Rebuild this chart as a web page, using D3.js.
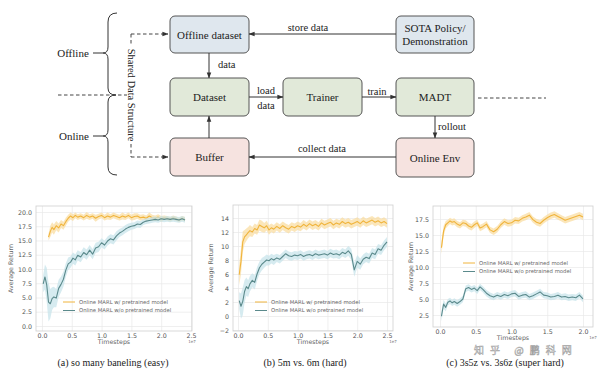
<!DOCTYPE html>
<html>
<head>
<meta charset="utf-8">
<script src="https://cdn.jsdelivr.net/npm/d3@7"></script>
<style>
  body { margin: 0; background: #fff; }
  svg { display: block; }
</style>
</head>
<body>
<div id="fig"></div>
<script>
// ---------- data ----------
// (a) so many baneling
const aSteps = [0.02,0.05,0.08,0.11,0.14,0.17,0.20,0.24,0.28,0.32,0.36,0.40,0.44,0.48,0.52,0.56,0.60,
  0.65,0.70,0.75,0.80,0.85,0.90,0.95,1.00,1.05,1.10,1.15,1.20,1.25,1.30,1.35,1.40,1.45,1.50,
  1.55,1.60,1.65,1.70,1.75,1.80,1.85,1.90,1.95,2.00,2.05,2.10,2.15,2.20,2.25,2.30,2.35,2.40];
const aWith = [null,null,null,15.6,16.6,17.3,16.9,17.6,17.2,17.9,17.6,18.3,18.9,19.3,19.0,19.4,19.1,
  19.3,19.0,19.4,19.1,19.3,18.9,19.2,19.4,19.0,19.3,19.1,19.4,19.2,19.0,19.3,19.1,19.4,19.0,
  19.2,19.3,19.0,19.1,18.9,19.3,19.0,18.9,19.1,18.8,19.0,18.9,18.7,19.0,18.8,18.6,18.9,18.7];
const aWithSpread = [0,0,0,0.6,1.0,0.9,0.9,0.8,0.8,0.7,0.7,0.7,0.6,0.6,0.6,0.5,0.5,
  0.5,0.5,0.6,0.5,0.5,0.6,0.5,0.5,0.5,0.6,0.5,0.5,0.5,0.5,0.6,0.5,0.5,0.5,
  0.6,0.5,0.5,0.5,0.5,0.6,0.5,0.5,0.5,0.5,0.4,0.4,0.4,0.4,0.4,0.4,0.4,0.4];
const aWithout = [7.4,8.6,7.2,4.2,3.9,4.8,5.1,4.9,6.6,7.3,8.2,9.8,10.9,11.2,11.9,11.6,12.4,
  12.1,12.9,12.5,13.3,12.6,13.7,13.9,14.6,14.2,14.9,15.3,15.1,15.8,16.3,16.6,17.0,17.3,17.5,
  17.6,17.9,17.8,18.2,18.4,18.5,18.6,18.7,18.6,18.8,18.7,18.8,18.7,18.8,18.7,18.6,18.8,18.6];
const aWithoutSpread = [1.5,2.2,3.0,3.4,2.6,2.0,1.8,1.6,1.5,1.4,1.3,1.2,1.1,1.0,1.0,1.0,0.9,
  0.9,0.9,0.9,0.9,0.9,0.9,0.9,0.8,0.8,0.8,0.8,0.8,0.8,0.7,0.7,0.7,0.7,0.6,
  0.6,0.6,0.6,0.5,0.5,0.5,0.5,0.5,0.5,0.5,0.5,0.5,0.5,0.5,0.5,0.5,0.5,0.5];
const aXTicks = [0, 0.5, 1.0, 1.5, 2.0, 2.5];
const aYTicks = [0, 2.5, 5, 7.5, 10, 12.5, 15, 17.5, 20];

// (b) 5m vs. 6m
const bSteps = [0.02,0.05,0.08,0.11,0.14,0.17,0.20,0.24,0.28,0.32,0.36,0.40,0.44,0.48,0.52,0.56,0.60,
  0.65,0.70,0.75,0.80,0.85,0.90,0.95,1.00,1.05,1.10,1.15,1.20,1.25,1.30,1.35,1.40,1.45,1.50,
  1.55,1.60,1.65,1.70,1.75,1.80,1.85,1.90,1.95,2.00,2.05,2.10,2.15,2.20,2.25,2.30,2.35,2.40,2.45,2.50];
const bWith = [5.9,7.8,10.6,11.3,11.6,11.9,12.2,12.0,12.5,12.3,13.0,12.8,12.6,12.9,12.3,12.6,12.4,
  12.8,12.5,12.9,12.6,12.4,12.8,12.6,12.9,12.7,13.1,12.8,13.2,12.9,13.1,12.8,13.3,13.0,13.2,
  13.4,13.0,13.3,13.1,13.5,13.2,13.4,13.1,13.3,13.5,13.2,13.6,13.3,13.5,13.7,13.4,13.6,13.3,13.5,13.2];
const bWithSpread = [1.5,1.8,1.5,1.0,0.9,0.8,0.8,0.7,0.7,0.7,0.8,0.8,0.7,0.7,0.7,0.6,0.6,
  0.6,0.6,0.6,0.6,0.6,0.6,0.6,0.6,0.6,0.6,0.6,0.6,0.6,0.6,0.6,0.6,0.6,0.6,
  0.6,0.6,0.6,0.6,0.6,0.6,0.6,0.6,0.6,0.6,0.6,0.6,0.6,0.6,0.6,0.6,0.6,0.6,0.6,0.6];
const bWithout = [2.2,1.4,2.1,3.5,4.2,3.9,4.6,5.1,4.8,6.0,6.9,7.4,7.7,8.0,7.9,8.2,8.0,
  8.3,8.1,8.5,8.9,8.6,8.5,8.7,8.6,8.8,8.5,8.7,8.8,8.6,8.9,8.7,8.8,8.9,8.7,
  9.0,8.8,8.9,8.7,9.1,8.9,9.3,8.8,6.6,7.8,7.4,8.1,8.4,8.2,9.0,8.8,9.6,9.4,10.1,10.6];
const bWithoutSpread = [1.2,1.8,2.0,1.6,1.3,1.2,1.1,1.0,1.0,1.0,0.9,0.9,0.8,0.8,0.7,0.7,0.7,
  0.6,0.6,0.6,0.6,0.6,0.6,0.6,0.6,0.6,0.6,0.6,0.6,0.6,0.6,0.6,0.6,0.6,0.6,
  0.6,0.6,0.6,0.6,0.6,0.6,0.7,0.8,1.0,0.9,0.8,0.7,0.7,0.7,0.7,0.7,0.7,0.7,0.7,0.7];
const bXTicks = [0, 0.5, 1.0, 1.5, 2.0, 2.5];
const bYTicks = [-2, 0, 2, 4, 6, 8, 10, 12, 14];

// (c) 3s5z vs. 3s6z
const cSteps = [0.02,0.05,0.08,0.11,0.14,0.17,0.20,0.24,0.28,0.32,0.36,0.40,0.44,0.48,0.52,0.56,0.60,
  0.65,0.70,0.75,0.80,0.85,0.90,0.95,1.00,1.05,1.10,1.15,1.20,1.25,1.30,1.35,1.40,1.45,1.50,
  1.55,1.60,1.65,1.70,1.75,1.80,1.85,1.90,1.95,2.00];
const cWith = [13.0,15.6,16.6,16.9,17.2,17.0,17.1,16.7,16.5,16.9,16.8,16.4,16.2,16.6,16.9,16.1,16.3,
  16.7,15.8,15.5,15.9,16.6,17.1,16.8,16.9,17.3,17.2,17.6,17.8,18.1,17.4,17.0,16.8,17.3,17.7,
  18.0,18.2,17.9,17.6,17.3,17.5,17.7,17.9,18.1,17.8];
const cWithSpread = [1.0,0.8,0.6,0.5,0.5,0.5,0.5,0.5,0.5,0.5,0.5,0.5,0.5,0.5,0.5,0.5,0.5,
  0.5,0.5,0.5,0.5,0.5,0.5,0.5,0.5,0.5,0.5,0.5,0.5,0.5,0.5,0.5,0.5,0.5,0.5,
  0.5,0.5,0.5,0.5,0.5,0.5,0.5,0.5,0.5,0.5];
const cWithout = [2.3,4.2,3.7,4.5,4.7,4.4,4.6,4.3,4.6,5.0,6.6,6.8,6.5,6.7,6.3,6.9,6.5,
  5.9,5.5,5.3,5.6,5.4,5.7,5.5,5.8,5.9,5.4,5.6,5.7,5.3,5.5,5.8,6.1,5.6,5.5,
  5.3,5.4,5.6,5.3,5.4,5.2,5.3,5.2,5.6,5.0];
const cWithoutSpread = [0.8,0.7,0.6,0.5,0.5,0.5,0.5,0.5,0.5,0.5,0.5,0.5,0.5,0.5,0.5,0.5,0.5,
  0.5,0.5,0.5,0.5,0.5,0.5,0.5,0.5,0.5,0.5,0.5,0.5,0.5,0.5,0.5,0.5,0.5,0.5,
  0.5,0.5,0.5,0.5,0.5,0.5,0.5,0.5,0.5,0.5];
const cXTicks = [0, 0.5, 1.0, 1.5, 2.0];
const cYTicks = [2.5, 5, 7.5, 10, 12.5, 15, 17.5];

const legendLabels = ["Online MARL w/ pretrained model", "Online MARL w/o pretrained model"];
const captions = ["(a) so many baneling (easy)", "(b) 5m vs. 6m (hard)", "(c) 3s5z vs. 3s6z (super hard)"];

// ---------- page ----------
const serif = "'Liberation Serif', 'DejaVu Serif', serif";
const sans = "'DejaVu Sans', sans-serif";
const ORANGE = "#f0b43c", ORANGE_BAND = "#fadb9c";
const TEAL = "#5b8a8c", TEAL_BAND = "#c4e2ea";

const svg = d3.select("#fig").append("svg")
    .attr("width", 600)
    .attr("height", 377);

const defs = svg.append("defs");
defs.append("marker")
    .attr("id", "arrow")
    .attr("viewBox", "0 0 8 8")
    .attr("refX", 7.5).attr("refY", 4)
    .attr("markerWidth", 6).attr("markerHeight", 6)
    .attr("markerUnits", "userSpaceOnUse")
    .attr("orient", "auto")
    .append("path")
    .attr("d", "M0,1 L8,4 L0,7 Z")
    .attr("fill", "#333");

// ---------- flow diagram ----------
const boxes = [
    { lines: ["Offline dataset"], x: 170, y: 16, w: 79, h: 37, fill: "#dfe7ee" },
    { lines: ["SOTA Policy/", "Demonstration"], x: 396, y: 16, w: 78, h: 37, fill: "#dfe7ee" },
    { lines: ["Dataset"], x: 170, y: 78, w: 79, h: 38, fill: "#e1e9d9" },
    { lines: ["Trainer"], x: 283, y: 78, w: 79, h: 38, fill: "#e1e9d9" },
    { lines: ["MADT"], x: 396, y: 78, w: 78, h: 38, fill: "#e1e9d9" },
    { lines: ["Buffer"], x: 170, y: 138, w: 79, h: 38, fill: "#f6e3e0" },
    { lines: ["Online Env"], x: 396, y: 138, w: 78, h: 39, fill: "#f6e3e0" }
];

const edges = [
    { d: "M396,34 L249,34" },
    { d: "M209,53 L209,78" },
    { d: "M249,97 L283,97" },
    { d: "M362,97 L396,97" },
    { d: "M435,116 L435,138" },
    { d: "M396,157 L249,157" },
    { d: "M209,138 L209,116" }
];

const edgeLabels = [
    { t: "store data", x: 308, y: 31, a: "middle" },
    { t: "data", x: 218, y: 68, a: "start" },
    { t: "load", x: 266, y: 94, a: "middle" },
    { t: "data", x: 266, y: 108.5, a: "middle" },
    { t: "train", x: 377, y: 94.5, a: "middle" },
    { t: "rollout", x: 438, y: 130, a: "start" },
    { t: "collect data", x: 322, y: 152, a: "middle" }
];

const flow = svg.append("g");

flow.selectAll("rect.box")
    .data(boxes)
    .enter()
    .append("rect")
    .attr("class", "box")
    .attr("x", d => d.x).attr("y", d => d.y)
    .attr("width", d => d.w).attr("height", d => d.h)
    .attr("rx", 5)
    .attr("fill", d => d.fill)
    .attr("stroke", "#555")
    .attr("stroke-width", 1);

boxes.forEach(b => {
    const n = b.lines.length;
    b.lines.forEach((l, i) => {
        flow.append("text")
            .attr("x", b.x + b.w / 2)
            .attr("y", b.y + b.h / 2 + 4 + (i - (n - 1) / 2) * 13)
            .attr("text-anchor", "middle")
            .style("font-family", serif)
            .style("font-size", "11px")
            .attr("fill", "#222")
            .text(l);
    });
});

flow.selectAll("path.edge")
    .data(edges)
    .enter()
    .append("path")
    .attr("class", "edge")
    .attr("d", d => d.d)
    .attr("fill", "none")
    .attr("stroke", "#333")
    .attr("stroke-width", 1)
    .attr("marker-end", "url(#arrow)");

edgeLabels.forEach(l => {
    flow.append("text")
        .attr("x", l.x).attr("y", l.y)
        .attr("text-anchor", l.a)
        .style("font-family", serif)
        .style("font-size", "10.5px")
        .attr("fill", "#222")
        .text(l.t);
});

// dashed links of the shared data structure
const dashed = [
    { d: "M131,34 L168,34", arrow: true },
    { d: "M131,157 L168,157", arrow: true },
    { d: "M131,34 L131,46", arrow: false },
    { d: "M131,144 L131,157", arrow: false },
    { d: "M58,95 L127,95", arrow: false },
    { d: "M478,98 L546,98", arrow: false }
];
dashed.forEach(p => {
    const path = flow.append("path")
        .attr("d", p.d)
        .attr("fill", "none")
        .attr("stroke", "#444")
        .attr("stroke-width", 1)
        .attr("stroke-dasharray", "3.5,2.5");
    if (p.arrow) path.attr("marker-end", "url(#arrow)");
});

flow.append("text")
    .attr("transform", "translate(128,95) rotate(90)")
    .attr("text-anchor", "middle")
    .style("font-family", serif)
    .style("font-size", "10.5px")
    .attr("fill", "#222")
    .text("Shared Data Structure");

// brace
flow.append("path")
    .attr("d", "M117,13 Q108,13 108,22 L108,47 Q108,53 103,53 Q108,53 108,59 L108,88 Q108,95 116,95 " +
        "Q108,95 108,102 L108,130 Q108,136 103,136 Q108,136 108,142 L108,167 Q108,175 117,175")
    .attr("fill", "none")
    .attr("stroke", "#333")
    .attr("stroke-width", 1);

[{ t: "Offline", y: 53, x: 73 }, { t: "Online", y: 136, x: 74 }].forEach(l => {
    flow.append("text")
        .attr("x", l.x).attr("y", l.y + 4)
        .attr("text-anchor", "middle")
        .style("font-family", serif)
        .style("font-size", "11px")
        .attr("fill", "#222")
        .text(l.t);
    flow.append("line")
        .attr("x1", 93).attr("x2", 103)
        .attr("y1", l.y).attr("y2", l.y)
        .attr("stroke", "#333");
});

// ---------- learning curves ----------
const charts = [
    {
        box: { left: 36, right: 192, top: 206, bottom: 331 },
        xDomain: [-0.10, 2.517], yDomain: [-0.88, 21.05],
        xTicks: aXTicks, yTicks: aYTicks, yFmt: d3.format(".1f"),
        steps: aSteps,
        series: [
            { v: aWith, s: aWithSpread, line: ORANGE, band: ORANGE_BAND },
            { v: aWithout, s: aWithoutSpread, line: TEAL, band: TEAL_BAND }
        ],
        legend: { x: 63, y: 302 }, yLabelX: 13, caption: captions[0], capX: 113
    },
    {
        box: { left: 233, right: 393, top: 205, bottom: 331 },
        xDomain: [-0.084, 2.60], yDomain: [-2.14, 15.86],
        xTicks: bXTicks, yTicks: bYTicks, yFmt: d3.format("d"),
        steps: bSteps,
        series: [
            { v: bWith, s: bWithSpread, line: ORANGE, band: ORANGE_BAND },
            { v: bWithout, s: bWithoutSpread, line: TEAL, band: TEAL_BAND }
        ],
        legend: { x: 255, y: 302 }, yLabelX: 213, caption: captions[1], capX: 305
    },
    {
        box: { left: 433, right: 593, top: 206, bottom: 327 },
        xDomain: [-0.098, 2.14], yDomain: [0.625, 19.53],
        xTicks: cXTicks, yTicks: cYTicks, yFmt: d3.format(".1f"),
        steps: cSteps,
        series: [
            { v: cWith, s: cWithSpread, line: ORANGE, band: ORANGE_BAND },
            { v: cWithout, s: cWithoutSpread, line: TEAL, band: TEAL_BAND }
        ],
        legend: { x: 463, y: 263 }, yLabelX: 413, caption: captions[2], capX: 505
    }
];

charts.forEach((c, ci) => {
    const b = c.box;
    const x = d3.scaleLinear().domain(c.xDomain).range([b.left, b.right]);
    const y = d3.scaleLinear().domain(c.yDomain).range([b.bottom, b.top]);
    const g = svg.append("g");

    defs.append("clipPath").attr("id", "clip" + ci)
        .append("rect")
        .attr("x", b.left).attr("y", b.top)
        .attr("width", b.right - b.left).attr("height", b.bottom - b.top);

    // grid
    g.append("g")
        .attr("transform", `translate(0,${b.bottom})`)
        .call(d3.axisBottom(x).tickValues(c.xTicks).tickSize(-(b.bottom - b.top)).tickFormat(""))
        .call(s => s.select(".domain").remove())
        .call(s => s.selectAll("line").attr("stroke", "#e8e8e8").attr("stroke-width", 0.7));
    g.append("g")
        .attr("transform", `translate(${b.left},0)`)
        .call(d3.axisLeft(y).tickValues(c.yTicks).tickSize(-(b.right - b.left)).tickFormat(""))
        .call(s => s.select(".domain").remove())
        .call(s => s.selectAll("line").attr("stroke", "#e8e8e8").attr("stroke-width", 0.7));

    // bands and lines
    const plot = g.append("g").attr("clip-path", `url(#clip${ci})`);
    c.series.forEach(sr => {
        const pts = c.steps.map((t, i) => ({ t: t, v: sr.v[i], s: sr.s[i] }));
        const area = d3.area()
            .defined(d => d.v !== null)
            .x(d => x(d.t))
            .y0(d => y(d.v - d.s))
            .y1(d => y(d.v + d.s));
        const line = d3.line()
            .defined(d => d.v !== null)
            .x(d => x(d.t))
            .y(d => y(d.v));
        plot.append("path")
            .datum(pts)
            .attr("d", area)
            .attr("fill", sr.band)
            .attr("opacity", 0.7);
        plot.append("path")
            .datum(pts)
            .attr("d", line)
            .attr("fill", "none")
            .attr("stroke", sr.line)
            .attr("stroke-width", 1.1)
            .attr("stroke-linejoin", "round");
    });

    // frame
    g.append("rect")
        .attr("x", b.left).attr("y", b.top)
        .attr("width", b.right - b.left).attr("height", b.bottom - b.top)
        .attr("fill", "none")
        .attr("stroke", "#cfcfcf")
        .attr("stroke-width", 0.8);

    // tick labels
    g.append("g")
        .attr("transform", `translate(0,${b.bottom})`)
        .call(d3.axisBottom(x).tickValues(c.xTicks).tickFormat(d3.format(".1f")).tickSize(0).tickPadding(3))
        .call(s => s.select(".domain").remove())
        .call(s => s.selectAll("text").style("font-family", sans).style("font-size", "6.3px").attr("fill", "#555"));
    g.append("g")
        .attr("transform", `translate(${b.left},0)`)
        .call(d3.axisLeft(y).tickValues(c.yTicks).tickFormat(c.yFmt).tickSize(0).tickPadding(4))
        .call(s => s.select(".domain").remove())
        .call(s => s.selectAll("text").style("font-family", sans).style("font-size", "6.3px").attr("fill", "#555"));

    // exponent marker
    g.append("text")
        .attr("x", b.right).attr("y", b.bottom + 12)
        .attr("text-anchor", "middle")
        .style("font-family", sans)
        .style("font-size", "4px")
        .attr("fill", "#777")
        .text("1e7");

    // axis titles
    g.append("text")
        .attr("x", (b.left + b.right) / 2).attr("y", b.bottom + 13)
        .attr("text-anchor", "middle")
        .style("font-family", sans)
        .style("font-size", "6.3px")
        .attr("fill", "#666")
        .text("Timesteps");
    g.append("text")
        .attr("transform", `translate(${c.yLabelX},${(b.top + b.bottom) / 2}) rotate(-90)`)
        .attr("text-anchor", "middle")
        .style("font-family", sans)
        .style("font-size", "6.3px")
        .attr("fill", "#666")
        .text("Average Return");

    // legend
    const legend = g.append("g").attr("transform", `translate(${c.legend.x},${c.legend.y})`);
    legendLabels.forEach((lab, i) => {
        legend.append("line")
            .attr("x1", 0).attr("x2", 12)
            .attr("y1", i * 8.5).attr("y2", i * 8.5)
            .attr("stroke", c.series[i].line)
            .attr("stroke-width", 1);
        legend.append("text")
            .attr("x", 16).attr("y", i * 8.5)
            .attr("dy", "0.35em")
            .style("font-family", sans)
            .style("font-size", "5.3px")
            .attr("fill", "#666")
            .text(lab);
    });

    // caption
    g.append("text")
        .attr("x", c.capX).attr("y", 366)
        .attr("text-anchor", "middle")
        .style("font-family", serif)
        .style("font-size", "10px")
        .attr("fill", "#222")
        .text(c.caption);
});

// watermark, kept in the gap between axis title and caption
svg.append("text")
    .attr("x", 474).attr("y", 354)
    .style("font-family", "'Noto Sans CJK SC', sans-serif")
    .style("font-size", "10px")
    .style("letter-spacing", "6px")
    .attr("fill", "rgba(255,255,255,0.55)")
    .attr("stroke", "#a0a0a0")
    .attr("stroke-width", 0.5)
    .text("知乎 @鹏科网");
</script>
</body>
</html>
